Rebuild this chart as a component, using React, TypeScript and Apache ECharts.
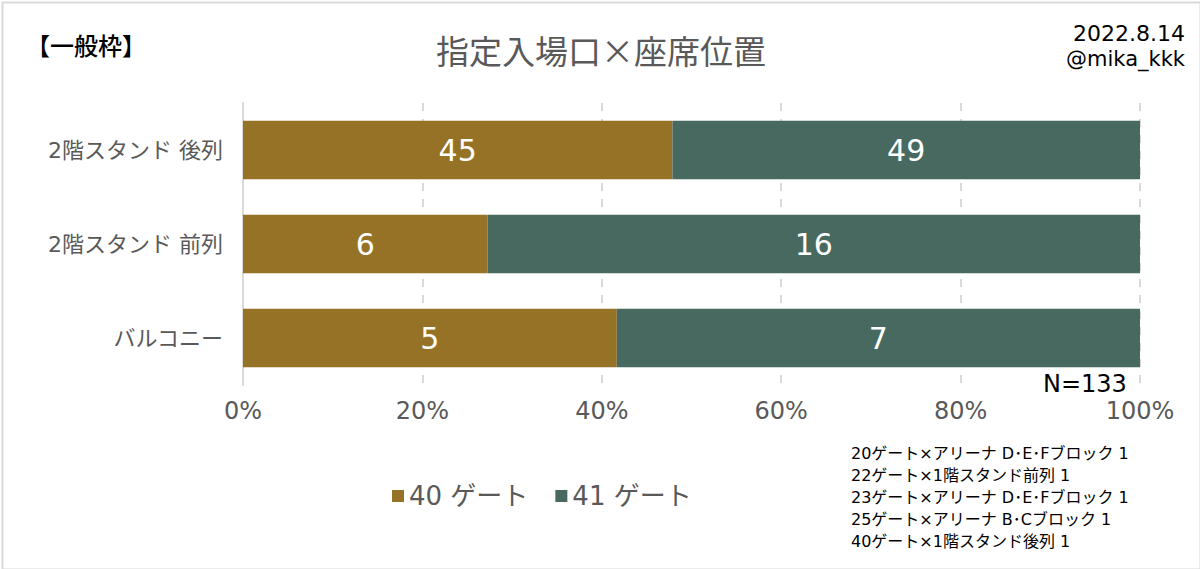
import React, { useEffect, useRef } from "react";
import * as echarts from "echarts";

const categories = ["バルコニー", "2階スタンド 前列", "2階スタンド 後列"];
const gate40 = [5, 6, 45];
const gate41 = [7, 16, 49];
const seriesNames = ["40 ゲート", "41 ゲート"];
const xTicks = [0, 20, 40, 60, 80, 100];
const notes = [
  "20ゲート×アリーナ D･E･Fブロック 1",
  "22ゲート×1階スタンド前列 1",
  "23ゲート×アリーナ D･E･Fブロック 1",
  "25ゲート×アリーナ B･Cブロック 1",
  "40ゲート×1階スタンド後列 1",
];
const titleText = "指定入場口×座席位置";
const tagText = "【一般枠】";
const dateText = "2022.8.14";
const authorText = "@mika_kkk";
const totalText = "N=133";

const FONT = "'DejaVu Sans', 'Noto Sans CJK JP', sans-serif";
const CJK = "'Noto Sans CJK JP', 'DejaVu Sans', sans-serif";

export default function App() {
  const ref = useRef<HTMLDivElement>(null);
  useEffect(() => {
    document.body.style.margin = "0";
    if (!ref.current) return;
    const chart = echarts.init(ref.current, undefined, { renderer: "svg" });
    const totals = categories.map((_, i) => gate40[i] + gate41[i]);
    const pct = (arr: number[]) =>
      arr.map((v, i) => ({ value: (v / totals[i]) * 100, count: v }));
    const labelCfg = {
      show: true,
      position: "inside",
      color: "#ffffff",
      fontSize: 30,
      fontFamily: FONT,
      formatter: (p: any) => String(p.data.count),
    };
    chart.setOption({
      animation: false,
      backgroundColor: "#ffffff",
      textStyle: { fontFamily: FONT },
      grid: { left: 243, right: 60, top: 103, bottom: 184, containLabel: false },
      xAxis: {
        type: "value",
        min: 0,
        max: 100,
        interval: 20,
        axisLine: { show: false },
        axisTick: { show: false },
        axisLabel: {
          color: "#595959",
          fontSize: 24,
          margin: 14,
          fontFamily: FONT,
          formatter: (v: number) => (xTicks.includes(v) ? v + "%" : ""),
        },
        splitLine: {
          show: true,
          lineStyle: { color: "#d9d9d9", width: 2, type: [8, 8] },
        },
      },
      yAxis: {
        type: "category",
        data: categories,
        axisLine: { show: true, lineStyle: { color: "#d9d9d9", width: 2 } },
        axisTick: { show: false },
        axisLabel: { color: "#595959", fontSize: 22, margin: 20, fontFamily: FONT },
      },
      legend: {
        data: seriesNames,
        left: 387,
        top: 478,
        itemWidth: 12,
        itemHeight: 12,
        itemGap: 27,
        icon: "rect",
        textStyle: { color: "#595959", fontSize: 26, fontFamily: FONT },
      },
      series: [
        {
          name: seriesNames[0],
          type: "bar",
          stack: "total",
          barWidth: "62%",
          itemStyle: { color: "#957225" },
          label: labelCfg,
          data: pct(gate40),
        },
        {
          name: seriesNames[1],
          type: "bar",
          stack: "total",
          barWidth: "62%",
          itemStyle: { color: "#47695f" },
          label: labelCfg,
          data: pct(gate41),
        },
      ],
      graphic: [
        {
          type: "rect",
          left: 0,
          top: 0,
          shape: { width: 1198, height: 567 },
          style: { fill: "none", stroke: "#d9d9d9", lineWidth: 2 },
          silent: true,
          z: 100,
        },
        {
          type: "text",
          x: 26,
          y: 44,
          style: { text: tagText, fontSize: 24, fill: "#000000", fontFamily: CJK, verticalAlign: "middle", fontWeight: 500 },
        },
        {
          type: "text",
          x: 601,
          y: 50,
          style: { text: titleText, fontSize: 33, fill: "#595959", fontFamily: CJK, align: "center", verticalAlign: "middle" },
        },
        {
          type: "text",
          x: 1185,
          y: 33,
          style: { text: dateText, fontSize: 22, fill: "#000000", fontFamily: FONT, align: "right", verticalAlign: "middle" },
        },
        {
          type: "text",
          x: 1185,
          y: 59,
          style: { text: authorText, fontSize: 21, fill: "#000000", fontFamily: FONT, align: "right", verticalAlign: "middle" },
        },
        {
          type: "text",
          x: 1043,
          y: 384,
          style: { text: totalText, fontSize: 24, fill: "#000000", fontFamily: FONT, verticalAlign: "middle" },
        },
        {
          type: "text",
          x: 851,
          y: 442,
          style: {
            text: notes.join("\n"),
            fontSize: 16,
            lineHeight: 22,
            fill: "#000000",
            fontFamily: FONT,
          },
        },
      ],
    });
    return () => chart.dispose();
  }, []);
  return (
    <div
      ref={ref}
      style={{ position: "absolute", left: 0, top: 0, width: 1200, height: 569 }}
    />
  );
}
